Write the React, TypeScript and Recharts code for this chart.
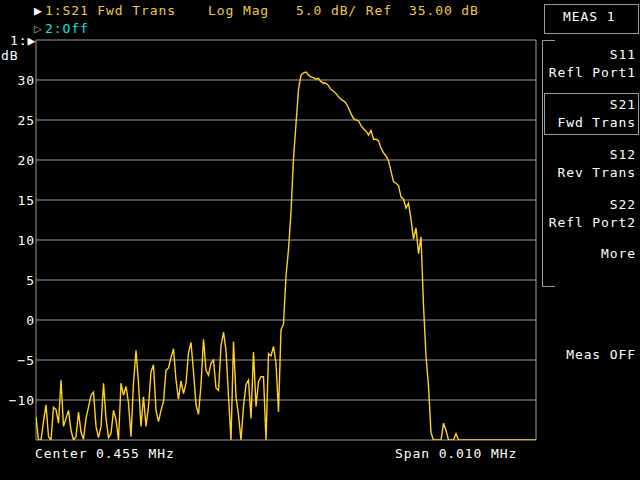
import React from 'react';
import { LineChart, Line, XAxis, YAxis, CartesianGrid } from 'recharts';

// Sweep: Center 0.455 MHz, Span 0.010 MHz -> 450..460 kHz, 201 points
const sweepStartKHz = 450;
const sweepStepKHz = 0.05;

// S21 log-mag values (dB)
const noiseDB = [
  -12.1, -15, -15, -12.7, -10.6, -14.6, -15, -10.9, -11.2, -12.9,
  -7.5, -13.3, -12.3, -11.3, -13.8, -15, -14.6, -11.5, -14, -14.9,
  -12.3, -10.9, -9.4, -9, -13.3, -14.7, -13.3, -7.9, -12.3, -14.7,
  -14.2, -11.3, -12.5, -15, -7.9, -9.4, -8.3, -10.4, -14.6, -7.9,
  -3.8, -7.9, -13.3, -9.6, -13.3, -10.8, -6.5, -5.6, -11.3, -12.7,
  -11.3, -10.2, -6.3, -6, -4.7, -3.6, -7.5, -9.9, -7.6, -9.2,
  -7.9, -4.1, -2.8, -6.5, -10.6, -11.8, -8.1, -2.4, -6.3, -6.9,
  -5.4, -5, -8.5, -8.8, -3.3, -1.5, -3.8, -9.6, -15, -2.7,
  -9.6, -11.9, -15, -10.8, -8.1, -7.5, -12.3, -4, -10.8, -7.7,
  -7.1, -7.1, -15, -4.2, -4.5, -3.3, -5.4, -11.5, -1.2, -0.5,
];
const passbandDB = [
  5.5, 8.8, 13.5, 20.2, 24.5, 28.8, 30.6, 30.9, 31.0, 30.6,
  30.4, 30.3, 30.1, 30.2, 29.8, 29.6, 29.6, 29.3, 28.8, 28.6,
  28.3, 27.9, 27.6, 27.4, 27.1, 26.5, 25.8, 25.2, 25.0, 24.9,
  24.3, 23.9, 23.6, 23.1, 23.7, 22.6, 22.6, 22.4, 21.5, 20.9,
  20.5, 19.9, 18.6, 17.3, 17.1, 16.8, 15.4, 15.1, 14.0, 14.6,
  12.6, 10.1, 11.5, 8.3, 10.4, 1.8, -4.5, -8.3, -14.1,
];
const stopbandDB = [
  -15, -15, -15, -15, -12.9, -13.8, -15, -15, -15, -14.2,
  -15, -15, -15, -15, -15, -15, -15, -15, -15, -15,
  -15, -15, -15, -15, -15, -15, -15, -15, -15, -15,
  -15, -15, -15, -15, -15, -15, -15, -15, -15, -15,
  -15, -15,
];

const s21DB = [...noiseDB, ...passbandDB, ...stopbandDB];
const data = s21DB.map((db, i) => ({ f: sweepStartKHz + i * sweepStepKHz, db }));

const xTicks = [450, 451, 452, 453, 454, 455, 456, 457, 458, 459, 460];
const yTicks = [-15, -10, -5, 0, 5, 10, 15, 20, 25, 30, 35];
const yLabeled = [-10, -5, 0, 5, 10, 15, 20, 25, 30];

const FONT = '"DejaVu Sans Mono", monospace';
const FS = 13;
const LS = 0.9;
const WHITE = '#ffffff';
const YELLOW = '#efc84a';
const TRACE = '#ffd21e';
const GRID = '#9c9c9c';
const CYAN = '#18e0e0';

const YTick = (props: any) => {
  const { x, y, payload } = props;
  const v = payload.value as number;
  if (!yLabeled.includes(v)) return null;
  const label = v < 0 ? '\u2212' + Math.abs(v) : String(v);
  return (
    <text x={x} y={y} dy={5} textAnchor="end" fill={WHITE} fontFamily={FONT} fontSize={FS} letterSpacing={LS}>
      {label}
    </text>
  );
};

const T = (p: { x: number; y: number; c?: string; a?: 'start' | 'end'; children: React.ReactNode }) => (
  <text x={p.x} y={p.y} fill={p.c || WHITE} textAnchor={p.a || 'start'} fontFamily={FONT} fontSize={FS} letterSpacing={LS}>
    {p.children}
  </text>
);

export default function App() {
  return (
    <div style={{ position: 'absolute', left: 0, top: 0, width: 640, height: 480, background: '#000', overflow: 'hidden' }}>
      <LineChart width={640} height={480} data={data} margin={{ top: 40, right: 104, bottom: 40, left: 0 }}>
        <CartesianGrid stroke={GRID} strokeWidth={1} />
        <XAxis type="number" dataKey="f" domain={[450, 460]} ticks={xTicks} tick={false} axisLine={false} tickLine={false} height={0} allowDataOverflow />
        <YAxis type="number" domain={[-15, 35]} ticks={yTicks} interval={0} width={36} axisLine={false} tickLine={false} tickSize={0} tickMargin={1} tick={<YTick />} allowDataOverflow />
        <Line type="linear" dataKey="db" stroke={TRACE} strokeWidth={1.4} dot={false} activeDot={false} isAnimationActive={false} />
      </LineChart>
      <svg width={640} height={480} style={{ position: 'absolute', left: 0, top: 0 }}>
        {/* header */}
        <T x={34} y={15}>▶</T>
        <T x={45} y={15} c={YELLOW}>1:S21 Fwd Trans</T>
        <T x={208} y={15} c={YELLOW}>Log Mag</T>
        <T x={296} y={15} c={YELLOW}>5.0 dB/ Ref</T>
        <T x={409} y={15} c={YELLOW}>35.00 dB</T>
        <T x={34} y={33} c="#9a9a9a">▷</T>
        <T x={45} y={33} c={CYAN}>2:Off</T>
        {/* reference marker */}
        <T x={10} y={45}>1:▶</T>
        <T x={1} y={60}>dB</T>
        {/* footer */}
        <T x={35} y={458}>Center 0.455 MHz</T>
        <T x={395} y={458}>Span 0.010 MHz</T>
        {/* softkey panel */}
        <rect x={544.5} y={4.5} width={94} height={29} fill="none" stroke={GRID} />
        <T x={563} y={21}>MEAS 1</T>
        <polyline points="555,40.5 542.5,40.5 542.5,286.5 555,286.5" fill="none" stroke={GRID} />
        <T x={636} y={59} a="end">S11</T>
        <T x={636} y={77} a="end">Refl Port1</T>
        <rect x={544.5} y={93.5} width={94} height={41} fill="none" stroke={GRID} />
        <T x={636} y={109} a="end">S21</T>
        <T x={636} y={127} a="end">Fwd Trans</T>
        <T x={636} y={159} a="end">S12</T>
        <T x={636} y={177} a="end">Rev Trans</T>
        <T x={636} y={209} a="end">S22</T>
        <T x={636} y={227} a="end">Refl Port2</T>
        <T x={636} y={258} a="end">More</T>
        <T x={636} y={359} a="end">Meas OFF</T>
      </svg>
    </div>
  );
}
